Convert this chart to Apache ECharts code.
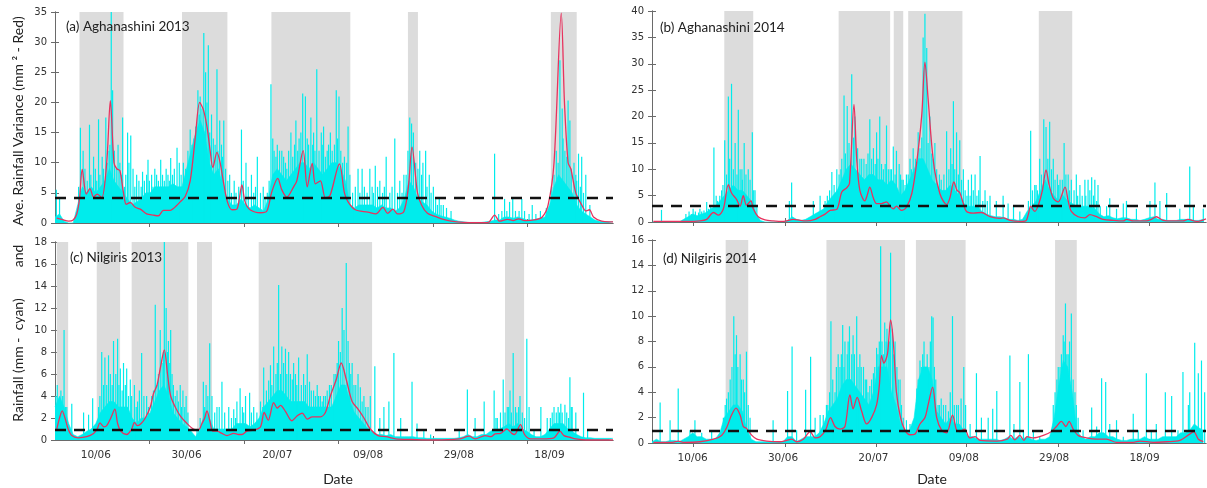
<!DOCTYPE html>
<html><head><meta charset="utf-8">
<script src="https://cdn.jsdelivr.net/npm/echarts@6/dist/echarts.min.js"></script>
<style>html,body{margin:0;padding:0;background:#fff}#c{width:1207px;height:488px}</style>
</head><body><div id="c"></div>
<script>
// ---------- DATA ----------
// x values are days since 01/06 (day 0 = 1 June)
const xTickLabels = ['10/06','30/06','20/07','09/08','29/08','18/09'];
const xLabelDays = [9, 29, 49, 69, 89, 109];
const tickDaysLeft = [20.8, 41.7, 62.5, 83.4, 104.2];
const tickDaysRight = [9.2, 29.4, 49.6, 69.6, 89.8, 110.0];

const panelTitles = ['(a) Aghanashini 2013', '(b) Aghanashini 2014', '(c) Nilgiris 2013', '(d) Nilgiris 2014'];
const thresholds = [4.2, 3.1, 0.95, 0.93];

// grey shaded periods [start day, end day]
const shadeA = [[5.4,15.1],[28.0,38.0],[47.7,65.1],[77.8,80.0],[109.3,115.0]];
const shadeB = [[16.0,22.4],[41.3,52.7],[53.5,55.6],[56.7,68.7],[85.6,93.0]];
const shadeC = [[0.4,2.9],[9.2,14.35],[16.9,29.4],[31.3,34.6],[44.9,69.9],[99.2,103.4]];
const shadeD = [[16.3,21.3],[38.6,56.0],[58.4,69.4],[89.2,94.0]];

// dense rainfall floor (mm), one value per day starting at day 0
const baseA = [1,1.5,0.3,0,0, 3,6,5,6,5, 6,7,9,7,6, 5,4,3,3.5,4, 5,5,6,6,6, 6,6.5,6,6,9, 12,15,17,15,10, 8,9,6,4,3, 3,4,3,2.5,3, 2.5,2,4,8,9, 8,7,8,9,10, 10,9,10,9,8, 9,10,10,9,7, 3,2.5,3,3,3, 3,2.5,3,2.5,2.5, 2,2.5,4,7,6, 4,3.5,3,2,1.5, 1.2,1,0.8,0.5,0.3, 0.2,0.1,0.1,0.1,0.1, 0.2,0.3,0.5,0.5,1, 1,0.8,1,0.8,0.5, 0.5,0.6,0.8,1,3, 6,8,7,6,5, 3,2,1.5,1,0.5, 0.3,0.2,0.2,0.2];
const baseB = [0,0,0,0,0, 0,0,0.5,1,1.5, 1.2,1.5,1.8,2.5,3, 4,5,6,7,6, 6,5,4,1.5,0.3, 0,0,0,0,0, 0.3,1,0.5,0.3,0.5, 1,1.5,2,2.5,4, 5,6,8,10,11, 10,9,8,9,9, 8,8,7,8,7, 5,6,8,10,12, 12,10,8,7,6, 6,7,6,5,3.5, 3,3,3,2,1.5, 1.2,1,1,0.8,0.5, 0.5,0.3,0.5,2,3, 4,6,8,6,5, 4,5,4,3.5,3, 3,3,3,2.5,1.5, 1,1.2,0.8,0.6,0.8, 0.8,0.5,0.5,0.3,0.5, 0.8,1,0.5,0.5,0.3, 0.3,0.3,0.5,0.5,0.5, 0.3,0.3,0.5];
const baseC = [3,4,3,1.5,0.5, 0.3,0.5,0.8,1,1.5, 2.5,3,3.5,3.5,3, 3,3,2,1.5,2, 2,2.5,3.5,4.5,5, 4,2.5,2,1.5,1.2, 0.8,0.3,1,2.5,2, 1,1,1,1,1, 1.5,1.5,1.5,1.2,1.5, 2,3,3.5,4,4.5, 4.5,4,3.5,3.5,3.5, 3.5,3,3,3,3, 3,3,4,5,5, 3.5,2.5,2,1.5,1, 0.8,0.5,0.5,0.4,0.5, 0.3,0.3,0.3,0.3,0.3, 0.2,0.2,0.15,0.15,0.15, 0.15,0.15,0.15,0.15,0.2, 0.3,0.5,0.3,0.3,0.5, 0.5,0.8,1,1,1.2, 1.5,1.2,1.5,1,0.8, 0.5,0.3,0.3,0.5,1, 1.5,1.5,1.5,1,0.8, 0.5,0.3,0.2,0.2,0.15, 0.15,0.15,0.15,0.15];
const baseD = [0.1,0.3,0.1,0.1,0.2, 0.2,0.1,0.3,0.5,0.8, 0.5,0.5,0.3,0.3,0.3, 0.8,2,2.5,3,3, 2.5,1,0.3,0.1,0.1, 0.1,0.1,0.1,0.1,0.1, 0.5,0.5,0.1,0.3,0.5, 0.5,0.5,0.8,1.5,2.5, 3,3.5,4.5,5,5, 4.5,4,3.5,3,4, 6,6,6,4,3, 1.5,1,1,2,5, 6,6,5,2.5,2, 1.5,2,1.5,1.5,1, 0.5,0.5,0.3,0.3,0.3, 0.3,0.3,0.2,0.3,0.5, 0.3,0.5,0.3,0.5,0.3, 0.2,0.3,0.3,0.5,2, 4.5,6.5,6,4,1, 0.5,0.3,0.5,0.5,0.8, 0.8,0.5,0.5,0.3,0.2, 0.2,0.3,0.3,0.3,0.5, 0.3,0.3,0.3,0.5,0.5, 0.5,0.5,0.8,0.8,1, 1.5,1.2,1];

// individual rainfall spikes [day, mm]
const spikesA = [[0.3,5.5],[1.0,4.0],[5.6,15.8],[6.2,12],[7.6,16.3],[8.5,11],[9.6,17.2],[10.4,11],[11.2,17.5],[12.4,35],[12.7,22],[13.9,13],[14.9,17.5],[16.0,15],[16.7,14.5],[18.0,8],[19.3,8.5],[20.5,10.5],[22.0,9],[23.3,10.5],[24.5,9],[25.5,10.8],[26.9,12.5],[27.4,10],[29.8,15.5],[30.6,14],[31.5,22],[32.0,21],[32.8,31.5],[33.2,25],[33.8,29.5],[34.5,18],[35.7,25.5],[36.3,17],[36.7,13],[37.2,17],[38.5,8],[39.5,7],[41.1,15.5],[42.1,10],[43.3,8],[44.6,11],[45.9,6],[46.8,5],[47.6,23],[48.3,12],[49.0,13],[50.0,12],[51.1,9],[52.0,15],[53.1,17],[54.2,15],[54.6,21.5],[55.2,21],[56.4,17.5],[57.0,15],[57.7,25.5],[58.7,15],[59.2,16],[60.7,15],[62.0,22],[62.6,21],[63.4,10],[64.6,16],[66.8,9],[67.7,9],[69.4,9],[70.6,9.5],[71.6,7],[73.0,11],[73.8,5],[74.9,14],[76.0,7],[76.9,8],[78.2,17.5],[78.6,16.5],[79.0,15],[80.4,12],[81.1,10],[81.7,12],[82.5,8],[83.4,6],[84.7,4],[85.6,3],[87.3,2],[96.9,11.5],[99.1,4],[100.2,3.5],[100.9,4],[102.9,4],[105.2,3],[110.5,12],[111.3,27],[111.8,19],[112.4,12],[113.1,20.3],[113.5,17],[114.4,10],[115.4,11.5],[116.1,11],[117.0,8],[117.9,3],
  [5.2,6],[6.6,9],[7.1,7],[7.9,8],[8.9,9],[9.2,7],[9.9,8],[10.7,9],[11.5,10],[11.9,12],[12.1,13],[13.1,12],[13.5,9],[14.3,10],[14.6,8],[15.3,6],[15.6,8],[16.3,10],[17.2,9],[17.6,6],[18.5,7],[19.0,6],[19.7,7],[20.2,8],[20.8,7],[21.3,8],[21.6,6],[22.4,8],[22.8,7],[23.7,8],[24.1,7],[24.9,8],[25.2,7],[25.9,8],[26.3,9],[27.8,8],[28.3,10],[28.8,9],[29.3,12],[30.2,13],[31.0,16],[31.8,18],[32.4,19],[33.5,20],[34.1,15],[34.9,14],[35.3,13],[35.9,12],[36.9,11],[37.6,9],[38.1,7],[38.9,5],[39.9,5],[40.5,6],[41.5,7],[42.6,6],[43.8,5],[44.2,6],[45.3,5],[46.3,4],[47.2,7],[48.0,14],[48.7,11],[49.5,12],[50.4,11],[50.8,10],[51.5,12],[52.4,11],[52.8,13],[53.5,12],[53.8,14],[55.6,14],[55.9,13],[56.8,13],[57.3,12],[58.2,12],[58.9,13],[59.6,11],[60.0,12],[60.3,13],[61.1,12],[61.6,13],[62.3,14],[63.0,12],[63.8,11],[64.3,10],[65.0,8],[65.6,5],[66.2,6],[67.2,5],[68.2,6],[68.8,5],[69.9,6],[70.2,5],[71.1,6],[72.2,5],[72.6,6],[74.3,6],[75.5,5],[76.5,5],[77.4,8],[77.8,12],[79.5,10],[80.0,9],[80.8,8],[82.0,6],[82.9,5],[83.9,4],[84.3,3],[85.1,3],[86.3,2.5],[97.8,1.5],[98.5,2],[99.6,2],[101.5,2],[102.3,2],[103.5,2],[104.5,1.5],[106.0,1.5],[107.0,2],[108.3,2.5],[109.5,6],[110.0,8],[110.9,10],[112.0,14],[112.8,11],[113.8,9],[114.8,8],[115.0,7],[115.8,6],[116.5,5]];
const spikesB = [[2.1,2.3],[9.1,2.5],[11.0,2.0],[12.1,3.8],[13.7,14.1],[15.0,5],[16.1,15.5],[16.9,23.8],[17.6,26.2],[18.4,15],[19.1,21.3],[19.9,10],[20.4,15],[21.3,10],[22.2,17],[22.8,6],[30.4,4],[30.9,7.5],[35.7,4],[37.2,5],[39.8,9.5],[40.9,10],[42.5,24],[43.2,22],[44.2,28],[44.9,20],[46.0,12],[46.9,12],[48.2,19.5],[49.0,14],[49.7,17],[50.4,20],[51.2,10],[51.9,18.3],[52.7,10],[53.4,14.3],[54.1,13.5],[54.7,11],[55.6,8],[56.3,9],[57.1,12],[57.8,14],[58.9,17],[60.0,35],[60.4,39.5],[60.8,33],[61.5,20],[62.6,15],[65.2,17.2],[66.1,14],[66.7,22.9],[67.4,17],[68.1,15.5],[68.9,10],[70.0,8],[70.7,9],[71.5,9],[72.6,12.5],[73.7,6],[74.8,5],[76.2,4],[77.7,5],[78.8,3.5],[80.0,3],[81.4,2],[83.8,17.3],[84.7,7],[85.8,12],[86.7,19.5],[87.2,18],[88.0,19],[88.8,12],[89.7,9],[90.3,8],[91.2,15],[92.1,9],[92.8,8],[93.9,9],[94.7,7],[95.8,8],[96.5,8],[97.3,8.5],[98.0,8],[98.7,7],[100.6,3],[101.3,4.5],[102.8,2.5],[104.3,3.5],[105.0,4],[107.2,2.5],[110.2,4],[111.3,7.5],[112.4,4],[113.9,5.5],[116.8,2.5],[119.0,10.5],[119.8,3],[122.0,2.5],
  [7.5,1.5],[8.2,2],[8.7,1.5],[9.6,2],[10.3,1.8],[10.6,2.5],[11.5,2.2],[12.5,2.5],[13.0,3],[14.2,5],[14.5,4],[15.4,6],[15.7,7],[16.5,9],[17.2,12],[18.0,10],[18.8,9],[19.5,10],[20.0,8],[20.8,9],[21.7,8],[22.5,6],[23.2,3],[38.3,4],[38.8,5],[39.3,6],[40.3,7],[41.4,9],[41.8,10],[42.0,12],[42.8,13],[43.6,15],[44.6,16],[45.5,14],[46.4,12],[47.4,11],[47.8,13],[48.6,12],[49.4,11],[50.0,12],[50.8,11],[51.6,11],[52.3,10],[53.0,10],[53.8,9],[55.0,9],[55.3,8],[56.0,7],[56.7,9],[57.4,10],[58.3,12],[59.3,14],[59.7,16],[61.1,15],[61.9,13],[62.2,12],[63.0,10],[63.6,9],[64.0,8],[64.6,9],[65.7,10],[66.4,11],[67.0,10],[67.8,9],[68.5,8],[69.3,6],[69.7,5],[70.4,5],[71.1,6],[71.9,5],[72.3,6],[73.2,4],[74.2,4],[83.3,4],[84.2,6],[85.0,7],[85.3,6],[86.2,9],[87.6,12],[88.4,10],[89.2,8],[90.0,7],[90.8,8],[91.6,9],[92.4,6],[93.4,6],[94.2,5],[95.2,5],[96.0,5],[96.9,6],[97.7,5],[98.4,4],[99.2,3]];
const spikesC = [[0.5,5],[1.3,4.5],[2.0,10],[2.6,3],[3.7,3.3],[6.3,2.5],[7.4,2.3],[8.3,3.8],[9.6,3],[10.3,8],[11.0,7.5],[11.8,7.7],[12.9,9],[13.8,9.2],[14.4,6.5],[15.1,7],[15.8,6.5],[16.6,5.5],[17.5,5],[18.6,4.5],[19.1,7.9],[20.2,4],[21.3,4],[22.1,12.3],[23.2,10],[24.1,18],[24.5,12],[25.0,9],[25.5,10],[26.1,5],[26.9,4.5],[27.6,5],[28.2,4.5],[28.9,4],[31.3,1],[32.0,2],[32.7,5.3],[33.3,5],[34.1,8.8],[34.6,4],[35.7,3],[36.8,5.3],[38.3,3],[39.4,2.8],[40.1,3.5],[40.8,4.7],[42.0,4],[42.9,4.3],[43.8,3],[45.3,3.5],[46.0,6.6],[47.1,5.4],[47.5,6.8],[48.2,8.5],[49.3,14.1],[50.0,8.5],[50.8,8.3],[51.5,8],[52.6,7],[53.7,7.5],[54.8,6],[55.6,7.8],[56.1,5.3],[57.0,4.5],[57.8,5],[58.5,4],[59.2,4],[60.5,5],[61.5,6],[62.5,9],[63.3,12],[64.2,16.1],[64.6,9],[65.5,7],[66.8,6],[67.3,4.8],[68.1,4],[69.5,4],[70.5,6.7],[71.6,2],[72.5,3],[73.6,3.5],[74.7,7.9],[76.2,2],[78.7,5.3],[79.8,1.5],[81.3,1],[82.8,0.5],[89.1,1],[90.9,4.6],[92.6,2],[94.6,3.5],[96.8,4.5],[97.5,2],[98.8,5.5],[99.7,3],[100.3,4.5],[101.0,7.9],[101.5,3],[102.5,4],[104.0,9.2],[104.5,3],[105.6,1],[107.1,3],[108.5,2],[110.0,3],[110.9,3],[111.5,3.3],[112.4,3.2],[113.5,5.7],[114.0,3],[114.8,2.5],[116.5,4.3],[117.4,1],
  [0.2,4],[0.8,3.5],[1.7,4],[2.3,3],[9.9,4],[10.7,5],[11.4,5],[12.2,6],[12.6,5],[13.4,6],[14.1,5],[14.8,4.5],[15.5,5],[16.2,4],[16.9,4],[17.9,3],[18.2,3.5],[19.6,4],[20.6,3],[21.7,4.5],[22.5,5],[22.8,6],[23.6,7],[23.9,8],[24.8,8],[25.3,7],[25.8,6],[26.5,4],[27.2,3.5],[27.9,3],[28.6,3],[29.3,2.5],[33.0,3],[33.7,4],[35.2,2.5],[36.2,3],[37.4,2.5],[38.9,2],[39.8,2],[41.3,3],[41.6,2.5],[43.3,2.5],[44.5,2.5],[45.8,3],[46.6,4.5],[47.8,5],[48.7,6],[49.0,7],[49.7,6],[50.4,7],[51.1,6],[51.9,6],[52.3,5.5],[53.0,6],[53.3,5],[54.3,5],[55.2,5],[56.5,4.5],[57.4,4],[58.1,4],[58.9,3.5],[59.6,4],[60.0,4.5],[60.9,5],[61.9,6],[62.2,7],[62.9,8],[63.7,10],[64.9,7],[65.2,6],[65.9,5],[66.3,5],[67.7,3.5],[68.5,3],[69.0,3],[97.2,2],[98.2,2.5],[99.2,2.5],[100.0,3],[100.6,2.5],[101.8,2.5],[102.2,3],[103.0,2.5],[103.5,2],[109.2,2],[109.6,2.5],[110.5,2.5],[111.2,2.5],[111.8,2.5],[112.8,2.5],[113.2,2],[113.8,3]];
const spikesD = [[1.8,3.2],[4.0,1.8],[5.8,4.3],[8.4,1],[9.5,1.8],[11.0,0.8],[13.2,1],[16.5,3.5],[17.3,5],[18.1,10],[18.7,8.5],[19.5,7],[20.2,5],[20.9,7.2],[21.7,2],[26.8,1.8],[30.0,4.1],[31.0,7.6],[32.0,1],[34.0,4.2],[35.1,6.8],[36.1,2],[37.2,2.2],[37.9,2.2],[38.6,3],[39.6,9.6],[40.5,4],[41.2,7],[42.2,9.3],[42.7,8],[43.7,9.2],[44.2,7],[44.5,8.5],[45.3,10],[46.0,7],[46.8,6],[47.5,5],[48.2,4.5],[49.0,5.5],[49.7,7.5],[50.6,15.5],[51.5,9.5],[52.3,8],[52.8,15],[53.8,8],[54.9,5],[55.6,2],[56.3,1.8],[57.1,1.5],[58.6,4.3],[59.3,6.5],[60.2,8.0],[60.6,5.5],[61.9,10],[62.2,9.9],[63.3,3],[64.5,3],[65.6,2.5],[66.5,10],[67.4,3],[69.0,6],[70.4,1.5],[71.8,5.5],[72.9,2],[74.4,2],[75.4,2.7],[76.3,4.1],[79.2,6.9],[80.1,1.5],[81.4,4.8],[82.2,1],[83.3,7],[84.4,1],[85.8,0.5],[89.2,4],[90.3,6],[91.0,8.5],[91.5,11],[92.1,7],[92.8,10.2],[93.6,4],[94.3,2],[95.4,1],[97.3,2.8],[98.4,1.3],[99.5,5.1],[100.4,4.8],[101.3,1.5],[102.8,1.8],[104.3,0.5],[106.5,2.3],[107.6,1],[109.4,5.5],[110.5,1],[111.6,1.5],[113.6,4],[115.0,3.7],[116.4,1],[117.5,5.6],[118.7,3],[119.0,4],[120.1,7.9],[120.9,5.5],[121.6,6.5],[122.3,4],
  [15.8,2],[16.2,3],[16.9,4],[17.7,6],[18.4,7],[19.0,6],[19.8,5],[20.5,4],[21.3,3],[38.9,3],[39.3,4],[40.0,5],[40.8,6],[41.6,6],[41.9,7],[42.5,6],[43.2,7],[43.4,8],[44.8,7],[45.6,6],[46.3,6],[47.2,5],[47.8,4],[48.6,5],[49.3,6],[50.0,7],[50.3,8],[50.9,8],[51.2,7],[51.8,8],[52.0,9],[52.6,8],[53.2,9],[53.5,7],[54.2,6],[54.5,5],[55.2,3],[58.9,5],[59.6,6],[59.9,7],[60.9,7],[61.3,6],[61.6,8],[62.5,6],[62.8,5],[63.6,3],[64.0,3.5],[65.0,3],[66.0,4],[66.9,3],[67.8,3],[68.4,3.5],[69.4,3],[88.8,3],[89.6,5],[89.9,6],[90.6,7],[90.9,6],[91.2,8],[91.8,7],[92.4,8],[93.2,5],[93.9,3]];

// average rainfall variance (mm^2) [day, value]
const redA = [[0.4,0.8],[1.5,0.6],[3,0.3],[4,0.5],[4.8,1.5],[5.4,4],[6.0,8.9],[6.9,4.8],[7.7,5.7],[8.5,4.3],[9.3,4.8],[10.3,4.2],[11.4,10],[12.2,20.3],[13.0,10],[13.6,9.0],[14.3,8.7],[15.1,5],[15.7,3.1],[16.6,3.4],[17.7,2.6],[18.8,2.3],[20.2,1.5],[21.7,1.3],[22.8,1.2],[23.9,2.1],[25.4,2.1],[26.1,2.4],[27.6,3.5],[28.7,4.4],[29.8,7.0],[30.9,14],[31.9,20.0],[32.7,18.8],[33.5,16],[34.2,12],[34.8,9.2],[35.7,11.7],[36.4,10],[37.2,6.5],[38.0,3.5],[39.0,2.2],[40.1,2.3],[41.2,6.3],[41.9,3.5],[43.0,2.2],[45.3,1.7],[46.7,2.0],[47.8,5.2],[49.1,7.4],[50.0,5.5],[51.1,4.3],[52.6,6.0],[53.3,7.0],[54.7,12.0],[55.6,6.0],[56.7,9.9],[57.4,6.5],[58.5,7.0],[59.6,4.2],[60.6,4.5],[62.7,9.8],[63.8,5],[64.6,3.5],[66.2,2.2],[69.0,1.8],[70.7,1.5],[72.3,2.6],[73.3,1.6],[74.5,2.3],[75.5,1.5],[76.9,1.9],[77.9,6],[78.7,12.6],[79.9,5],[80.8,3.0],[82.1,1.6],[83.8,1.1],[85.6,0.6],[87.3,0.3],[90,0.1],[93,0.05],[95.5,0.1],[96.9,1.3],[98,0.3],[99.8,0.6],[101,0.4],[102.2,0.7],[103.5,0.4],[105.6,0.5],[107.4,1.0],[108.7,3],[110,10],[111.6,34.8],[112.3,20],[113.1,10],[113.7,9],[114.8,5],[116.1,3],[117,2.0],[117.8,2.2],[118.7,1.0],[120.5,0.3],[122.2,0.2],[123,0.2]];
const redB = [[0.3,0.1],[7.7,0.1],[10.6,0.2],[12.1,0.5],[13.6,1.8],[14.7,1.3],[15.8,2.5],[16.9,7.1],[17.6,5.5],[18.7,4.3],[19.5,3.0],[20.2,5.0],[20.9,3.2],[21.9,4.0],[22.4,2.5],[23.5,1.0],[25,0.4],[26.8,0.2],[29.1,0.1],[31.3,0.5],[32.8,0.3],[34.2,0.2],[36.1,0.5],[37.2,1.0],[38.3,1.5],[39.4,2.2],[40.9,2.4],[42.0,5.7],[43.1,6.5],[43.7,7.3],[44.7,22.3],[45.3,12],[46.0,6],[47.1,4.0],[47.6,5.0],[48.2,6.6],[49.0,4.5],[49.7,3.5],[50.8,3.5],[51.9,3.8],[52.7,3.0],[53.4,2.5],[54.1,3.0],[55.2,2.2],[56.3,2.8],[57.5,5.4],[58.6,11.4],[59.7,20.3],[60.4,30.3],[61.1,23.4],[61.9,14.6],[62.6,9.5],[63.7,5.4],[64.5,3.9],[65.2,3.3],[65.9,4.5],[66.8,7.6],[67.5,6.0],[68.1,5.6],[68.9,3.5],[69.6,2.0],[71.1,1.7],[72.9,1.8],[74.8,1.0],[77,0.7],[77.7,0.8],[79.2,0.3],[81.4,0.1],[82.7,0.2],[83.3,1.5],[83.8,3.0],[84.7,2.0],[85.5,3.2],[86.4,6],[87.2,9.9],[87.9,7],[88.8,4.5],[89.9,3.8],[91.4,6.6],[92.1,4],[92.8,2],[94.3,1.0],[95.8,0.8],[96.9,1.4],[98.4,1.0],[99.8,0.5],[102.1,0.3],[104.3,0.2],[105,0.5],[106.5,0.2],[109.4,0.2],[110.5,0.5],[111.6,1.0],[113.1,0.3],[115.3,0.2],[117.5,0.2],[118.6,0.5],[120.5,0.1],[122.6,0.6]];
const redC = [[0.4,1.0],[1.0,2.0],[1.6,2.65],[2.2,2.0],[2.9,1.0],[3.7,0.4],[5.1,0.2],[7,0.3],[8.5,0.6],[9.3,1.0],[9.9,1.55],[10.8,1.2],[11.4,1.3],[12.3,2.0],[13.2,2.8],[13.8,1.5],[14.5,0.8],[15.8,0.5],[16.9,1.0],[17.5,1.6],[18.2,1.3],[19,1.5],[19.9,2.0],[21,3.0],[21.7,4.2],[22.5,5.0],[23.2,6.5],[24.1,8.2],[24.8,6.0],[25.5,4.0],[26.5,3.0],[27.6,2.2],[29.1,1.5],[30.5,1.0],[31.6,0.9],[32.4,1.5],[33,2.0],[33.5,2.65],[34.1,1.8],[34.8,0.8],[35.7,0.8],[36.8,0.6],[37.9,0.4],[39.4,0.6],[40.5,0.5],[41.2,0.5],[42.3,0.8],[43.8,0.9],[45.3,1.2],[46.1,2.5],[47.0,1.8],[48.2,3.4],[49.0,2.9],[49.7,3.15],[50.8,2.6],[52.2,1.75],[53.4,2.2],[54.5,2.45],[55.6,1.9],[56.7,2.1],[58.5,2.1],[59.6,2.5],[60.7,4],[62,5.5],[63.1,7.0],[64.2,5.5],[65.5,3.5],[66.8,2.8],[68.1,2.0],[69.5,1.0],[71.2,0.4],[73,0.3],[75.1,0.1],[78.6,0.05],[83.8,0],[89.1,0.1],[91.3,0.35],[92.6,0.1],[94.8,0.4],[96.1,0.3],[97,0.55],[98.2,0.6],[99.6,1.0],[100.7,0.6],[101.3,0.5],[102.6,1.4],[103.5,0.5],[104.8,0.1],[107.4,0.1],[110,0.2],[111.3,0.8],[112.2,0.4],[113.5,0.25],[114.8,0.1],[117,0],[123,0]];
const redD = [[0.3,0.05],[4.5,0.05],[5.8,0.15],[6.9,0.05],[10.6,0.1],[13.6,0.3],[15.4,0.6],[16.5,1.2],[17.6,2.2],[18.6,2.75],[19.5,2.2],[20.2,1.3],[20.9,1.15],[22.1,0.6],[23.2,0.3],[25.4,0.15],[28.3,0.1],[29.8,0.2],[30.9,0.3],[32,0.1],[33.5,0.3],[35,0.9],[36.1,0.4],[37.2,0.5],[38.4,1.0],[39.5,2.0],[40.5,1.3],[41.6,1.1],[42.7,1.3],[43.8,3.8],[44.5,2.7],[45.4,3.6],[46.4,2.5],[47.5,1.5],[48.6,2.0],[49.7,3.0],[50.3,4.5],[50.8,6.9],[51.3,6.3],[52.1,7.0],[52.8,9.7],[53.4,8.0],[54.1,4],[55,2],[56,1.0],[57.1,0.65],[58.2,0.7],[59.3,1.5],[60.4,2.0],[61.1,3],[62.1,4.4],[63,2.0],[64.1,1.0],[65.2,0.8],[66.5,2.2],[67.4,1.0],[68.1,0.9],[69.2,1.1],[70.3,0.4],[71.5,0.5],[72.6,0.2],[76.3,0.15],[78.6,0.3],[79.4,0.6],[80.3,0.25],[81.4,0.6],[82.3,0.2],[83,0.5],[84.4,0.4],[86.6,0.6],[88.4,0.9],[89.5,1.3],[90.6,1.7],[91.6,1.3],[92.3,1.7],[93.2,1.1],[94.3,0.6],[96.2,0.4],[98.4,0.3],[100.6,0.3],[102.8,0.05],[106.5,0.05],[108,0.15],[110.9,0.05],[113.9,0.1],[116.8,0.2],[119,0.7],[119.9,0.9],[120.9,0.3],[122,0.1]];

const yMax = [35, 40, 18, 16];
const yStep = [5, 5, 2, 2];
const xMax = [123, 122.6, 123, 122.6];

// ---------- LAYOUT / STYLE ----------
const CYAN = '#00ecec';
const RED = '#e8325e';
const AXIS = '#6a6a6a';
const grids = [
  {left: 55, top: 12, width: 558, height: 211},
  {left: 652, top: 11, width: 554, height: 211},
  {left: 55, top: 242, width: 558, height: 198},
  {left: 652, top: 240, width: 554, height: 203}
];
const bases = [baseA, baseB, baseC, baseD];
const spikes = [spikesA, spikesB, spikesC, spikesD];
const reds = [redA, redB, redC, redD];
const shades = [shadeA, shadeB, shadeC, shadeD];
const titlePos = [[66, 27], [660, 28], [70, 258], [663, 259]];

const xAxes = [], yAxes = [], series = [], graphics = [];
for (let i = 0; i < 4; i++) {
  const ticks = (i % 2 === 0) ? tickDaysLeft : tickDaysRight;
  const showLabels = i >= 2;
  const axisLine = {show: true, lineStyle: {color: AXIS, width: 1}};
  xAxes.push({
    type: 'value', gridIndex: i, position: 'bottom', min: 0, max: xMax[i],
    axisLine, splitLine: {show: false},
    axisTick: {show: true, inside: true, length: 4, customValues: ticks, lineStyle: {color: AXIS}},
    axisLabel: {show: showLabels, customValues: xLabelDays, margin: 10,
      formatter: v => { const k = xLabelDays.indexOf(v); return k >= 0 ? xTickLabels[k] : ''; },
      fontFamily: 'DejaVu Sans', fontSize: 10.5, color: '#333'}
  });
  xAxes.push({
    type: 'value', gridIndex: i, position: 'top', min: 0, max: xMax[i],
    axisLine, splitLine: {show: false},
    axisTick: {show: true, inside: true, length: 4, customValues: ticks, lineStyle: {color: AXIS}},
    axisLabel: {show: false}
  });
  yAxes.push({
    type: 'value', gridIndex: i, position: 'left', min: 0, max: yMax[i], interval: yStep[i],
    axisLine, splitLine: {show: false},
    axisTick: {show: true, inside: true, length: 4, lineStyle: {color: AXIS}},
    axisLabel: {margin: 8, fontFamily: 'DejaVu Sans', fontSize: 10, color: '#333'}
  });
  yAxes.push({
    type: 'value', gridIndex: i, position: 'right', min: 0, max: yMax[i], interval: yStep[i],
    axisLine, splitLine: {show: false},
    axisTick: {show: true, inside: true, length: 4, lineStyle: {color: AXIS}},
    axisLabel: {show: false}
  });
  const xi = 2 * i, yi = 2 * i;
  series.push({
    type: 'line', xAxisIndex: xi, yAxisIndex: yi, z: 2,
    data: bases[i].map((v, d) => [d, v]),
    symbol: 'none', silent: true,
    lineStyle: {width: 0.6, color: CYAN},
    areaStyle: {color: CYAN, opacity: 1},
    markArea: {silent: true, itemStyle: {color: '#dcdcdc'},
      data: shades[i].map(s => [{xAxis: s[0]}, {xAxis: s[1]}])}
  });
  series.push({
    type: 'bar', xAxisIndex: xi, yAxisIndex: yi, z: 2,
    data: spikes[i], barWidth: 1.2, silent: true,
    itemStyle: {color: CYAN}
  });
  series.push({
    type: 'line', xAxisIndex: xi, yAxisIndex: yi, z: 3,
    data: reds[i], symbol: 'none', smooth: 0.3, silent: true,
    lineStyle: {color: RED, width: 1.3},
    markLine: {silent: true, symbol: 'none', label: {show: false},
      lineStyle: {type: [11, 8], color: '#111', width: 2.4},
      data: [{yAxis: thresholds[i]}]}
  });
  graphics.push({type: 'text', x: titlePos[i][0], y: titlePos[i][1], z: 100,
    style: {text: panelTitles[i], font: '13.5px Lato', fill: '#222', verticalAlign: 'middle', textVerticalAlign: 'middle'}});
}
const axisTitleParts = ['Ave. Rainfall Variance (mm ² - Red)', 'and', 'Rainfall (mm -  cyan)'];
const axisTitleY = [121, 256, 360];
axisTitleParts.forEach((t, k) => graphics.push({
  type: 'text', x: 18, y: axisTitleY[k], rotation: Math.PI / 2, z: 100,
  style: {text: t, font: '14px Lato', fill: '#222', align: 'center', verticalAlign: 'middle', textAlign: 'center', textVerticalAlign: 'middle'}
}));
[338, 932].forEach(x => graphics.push({type: 'text', x: x, y: 479, z: 100,
  style: {text: 'Date', font: '14px Lato', fill: '#222', align: 'center', verticalAlign: 'middle', textAlign: 'center', textVerticalAlign: 'middle'}}));

const chart = echarts.init(document.getElementById('c'));
chart.setOption({
  animation: false,
  backgroundColor: '#fff',
  grid: grids,
  xAxis: xAxes,
  yAxis: yAxes,
  series: series,
  graphic: graphics
});
</script></body></html>
